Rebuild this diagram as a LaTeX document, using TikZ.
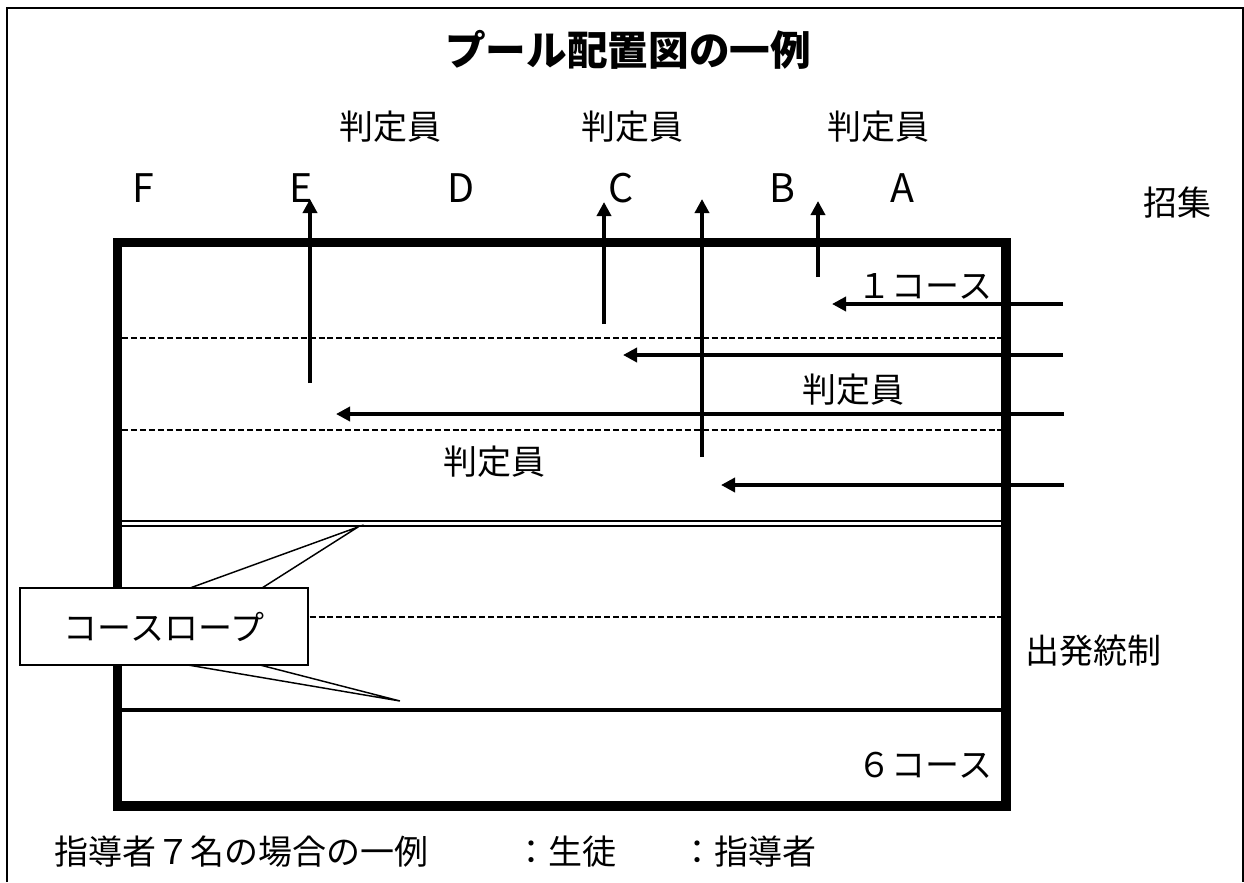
\documentclass[tikz,border=0pt]{standalone}
\usepackage{fontspec}
\setmainfont{Noto Sans CJK JP}
\usetikzlibrary{arrows.meta}
\begin{document}
\begin{tikzpicture}[x=0.75pt,y=-0.75pt,
  lbl/.style={font=\fontsize{25.5}{30}\selectfont, inner sep=0pt},
  ltr/.style={font=\fontsize{29.5}{34}\selectfont, inner sep=0pt},
  arr/.style={line width=3pt, -{Triangle[length=10.5pt,width=10.5pt]}},
  lanedash/.style={line width=1pt, dash pattern=on 4.5pt off 2.2pt},
  frame/.style={line width=1.5pt},
  pool/.style={line width=6.8pt, line join=miter},
  thin/.style={line width=1.1pt}]
\useasboundingbox (0,0) rectangle (1244,882);
% outer frame (open at bottom)
\draw[frame] (7,882) -- (7,8) -- (1242.5,8) -- (1242.5,882);
% title
\node[font=\fontsize{30.5}{36}\selectfont\bfseries, inner sep=0pt] (title) at (628,50) {プール配置図の一例};
% judges top
\node[lbl] (j1) at (390,127) {判定員};
\node[lbl] (j2) at (632,127) {判定員};
\node[lbl] (j3) at (878,127) {判定員};
% lane letters
\node[ltr] (F) at (143,188) {F};
\node[ltr] (E) at (301,188) {E};
\node[ltr] (D) at (461,188) {D};
\node[ltr] (C) at (621,188) {C};
\node[ltr] (B) at (782,188) {B};
\node[ltr] (A) at (902,188) {A};
\node[lbl] (call) at (1177,203) {招集};
% lane separators
\draw[lanedash] (122,338) -- (1002,338);
\draw[lanedash] (122,430) -- (1002,430);
\draw[thin] (122,521) -- (1002,521);
\draw[thin] (122,526) -- (1002,526);
\draw[lanedash] (122,617) -- (1002,617);
\draw[line width=2.4pt] (122,710) -- (1002,710);
% pool
\draw[pool] (117.5,242.5) rectangle (1006,806);
% texts inside pool
\node[lbl] (c1) at (925,286) {１コース};
\node[lbl] (j4) at (853,390) {判定員};
\node[lbl] (j5) at (494,462) {判定員};
\node[lbl] (c6) at (925,765) {６コース};
\node[lbl] (start) at (1093,651) {出発統制};
% vertical arrows
\coordinate (vEs) at (310,383); \coordinate (vEe) at (310,199);
\coordinate (vCs) at (604,324); \coordinate (vCe) at (604,202);
\coordinate (vXs) at (702,457); \coordinate (vXe) at (702,199);
\coordinate (vBs) at (818,277); \coordinate (vBe) at (818,201);
\draw[arr] (vEs) -- (vEe);
\draw[arr] (vCs) -- (vCe);
\draw[arr] (vXs) -- (vXe);
\draw[arr] (vBs) -- (vBe);
% horizontal arrows
\coordinate (h1s) at (1063,304); \coordinate (h1e) at (832,304);
\coordinate (h2s) at (1063,355); \coordinate (h2e) at (623,355);
\coordinate (h3s) at (1064,414); \coordinate (h3e) at (336,414);
\coordinate (h4s) at (1064,485); \coordinate (h4e) at (721,485);
\draw[arr] (h1s) -- (h1e);
\draw[arr] (h2s) -- (h2e);
\draw[arr] (h3s) -- (h3e);
\draw[arr] (h4s) -- (h4e);
% callout
\coordinate (tipU) at (358,527);
\coordinate (tipL) at (400,701);
\draw[thin] (190,588) -- (tipU) -- (262,588);
\draw[thin] (188,665) -- (tipL) -- (260,665);
\node[draw, fill=white, thin, minimum width=216pt, minimum height=57.75pt, inner sep=0pt,
  font=\fontsize{25.5}{30}\selectfont] (rope) at (164,626.5) {コースロープ};
% bottom legend
\node[lbl, anchor=west] (leg1) at (54,852) {指導者７名の場合の一例};
\node[lbl, anchor=west] (leg2) at (514,852) {：生徒};
\node[lbl, anchor=west] (leg3) at (680,852) {：指導者};
\end{tikzpicture}
\end{document}
